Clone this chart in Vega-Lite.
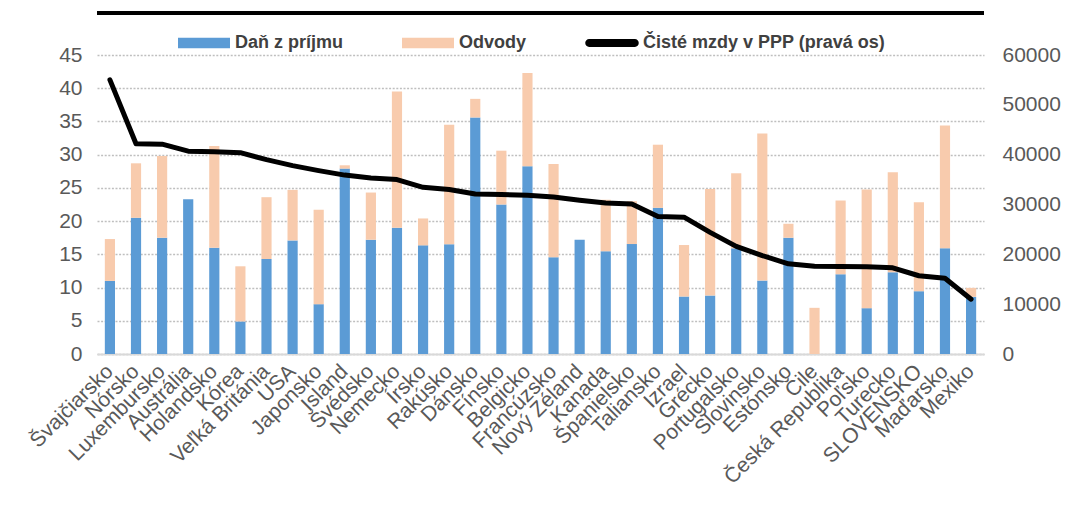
{
  "$schema": "https://vega.github.io/schema/vega-lite/v6.json",
  "width": 887,
  "height": 299,
  "autosize": {"type": "none"},
  "padding": {"left": 97, "top": 55, "right": 81, "bottom": 162},
  "background": "white",
  "config": {
    "view": {"stroke": null},
    "font": "Liberation Sans",
    "axis": {"labelFont": "Liberation Sans", "labelColor": "#595959", "labelFontSize": 21, "ticks": false, "title": null}
  },
  "data": {
    "values": [
      {"k": "Švajčiarsko", "Daň z príjmu": 11.0, "Odvody": 6.3, "mzda": 55000},
      {"k": "Nórsko", "Daň z príjmu": 20.5, "Odvody": 8.2, "mzda": 42200},
      {"k": "Luxembursko", "Daň z príjmu": 17.5, "Odvody": 12.3, "mzda": 42100},
      {"k": "Austrália", "Daň z príjmu": 23.3, "Odvody": 0, "mzda": 40700},
      {"k": "Holandsko", "Daň z príjmu": 16.0, "Odvody": 15.3, "mzda": 40600},
      {"k": "Kórea", "Daň z príjmu": 4.9, "Odvody": 8.3, "mzda": 40400},
      {"k": "Veľká Británia", "Daň z príjmu": 14.3, "Odvody": 9.3, "mzda": 39000},
      {"k": "USA", "Daň z príjmu": 17.1, "Odvody": 7.6, "mzda": 37800},
      {"k": "Japonsko", "Daň z príjmu": 7.5, "Odvody": 14.2, "mzda": 36800},
      {"k": "Island", "Daň z príjmu": 27.9, "Odvody": 0.5, "mzda": 35900},
      {"k": "Švédsko", "Daň z príjmu": 17.2, "Odvody": 7.1, "mzda": 35300},
      {"k": "Nemecko", "Daň z príjmu": 19.0, "Odvody": 20.5, "mzda": 35000},
      {"k": "Írsko", "Daň z príjmu": 16.35, "Odvody": 4.05, "mzda": 33450},
      {"k": "Rakúsko", "Daň z príjmu": 16.5, "Odvody": 18.0, "mzda": 33000},
      {"k": "Dánsko", "Daň z príjmu": 35.6, "Odvody": 2.8, "mzda": 32100},
      {"k": "Fínsko", "Daň z príjmu": 22.5, "Odvody": 8.1, "mzda": 32000},
      {"k": "Belgicko", "Daň z príjmu": 28.25, "Odvody": 14.05, "mzda": 31850},
      {"k": "Francúzsko", "Daň z príjmu": 14.55, "Odvody": 14.05, "mzda": 31500},
      {"k": "Nový Zéland", "Daň z príjmu": 17.2, "Odvody": 0, "mzda": 30850},
      {"k": "Kanada", "Daň z príjmu": 15.45, "Odvody": 7.75, "mzda": 30300},
      {"k": "Španielsko", "Daň z príjmu": 16.55, "Odvody": 6.45, "mzda": 30100},
      {"k": "Taliansko", "Daň z príjmu": 22.0, "Odvody": 9.5, "mzda": 27600},
      {"k": "Izrael", "Daň z príjmu": 8.65, "Odvody": 7.75, "mzda": 27450},
      {"k": "Grécko", "Daň z príjmu": 8.8, "Odvody": 16.05, "mzda": 24400},
      {"k": "Portugalsko", "Daň z príjmu": 15.9, "Odvody": 11.3, "mzda": 21600},
      {"k": "Slovinsko", "Daň z príjmu": 11.05, "Odvody": 22.15, "mzda": 19750},
      {"k": "Estónsko", "Daň z príjmu": 17.5, "Odvody": 2.1, "mzda": 18100},
      {"k": "Čile", "Daň z príjmu": 0, "Odvody": 6.95, "mzda": 17600},
      {"k": "Česká Republika", "Daň z príjmu": 12.0, "Odvody": 11.1, "mzda": 17550},
      {"k": "Poľsko", "Daň z príjmu": 6.9, "Odvody": 17.85, "mzda": 17500},
      {"k": "Turecko", "Daň z príjmu": 12.3, "Odvody": 15.05, "mzda": 17300},
      {"k": "SLOVENSKO", "Daň z príjmu": 9.45, "Odvody": 13.4, "mzda": 15700},
      {"k": "Maďarsko", "Daň z príjmu": 15.9, "Odvody": 18.5, "mzda": 15200},
      {"k": "Mexiko", "Daň z príjmu": 8.6, "Odvody": 1.35, "mzda": 11000}
    ]
  },
  "layer": [
    {
      "transform": [{"fold": ["Daň z príjmu", "Odvody"], "as": ["typ", "hodnota"]}],
      "mark": {"type": "bar"},
      "encoding": {
        "x": {
          "field": "k", "type": "nominal", "sort": null,
          "scale": {"paddingInner": 0.61, "paddingOuter": 0.3},
          "axis": {"labelAngle": -45, "labelAlign": "right", "labelBaseline": "middle", "labelPadding": 14, "labelDx": 4, "labelOverlap": false, "labelLimit": 0, "domainColor": "#d9d9d9", "domainWidth": 2, "grid": false}
        },
        "y": {
          "field": "hodnota", "type": "quantitative", "stack": "zero",
          "scale": {"domain": [0, 45], "nice": false},
          "axis": {"orient": "left", "values": [0, 5, 10, 15, 20, 25, 30, 35, 40, 45], "grid": true, "gridDash": [2, 1.6], "gridColor": "#bfbfbf", "gridWidth": 1.3, "domain": false, "labelPadding": 15}
        },
        "color": {
          "field": "typ", "type": "nominal",
          "scale": {"domain": ["Daň z príjmu", "Odvody", "Čisté mzdy v PPP (pravá os)"], "range": ["#5B9BD5", "#F8CBAD", "#000000"]},
          "legend": {
            "orient": "none", "legendX": 81, "legendY": -38, "direction": "horizontal", "title": null,
            "symbolType": "M-1,-0.2H1V0.2H-1Z", "symbolSize": 2704, "symbolStrokeWidth": 0,
            "labelFont": "Liberation Sans", "labelFontWeight": "bold", "labelFontSize": 18, "labelColor": "#404040",
            "labelOffset": 5, "columnPadding": 58, "labelLimit": 0,
            "encode": {"symbols": {"update": {
              "shape": {"signal": "datum.value === 'Čisté mzdy v PPP (pravá os)' ? 'M-0.88,-0.15H0.88A0.15,0.15,0,0,1,0.88,0.15H-0.88A0.15,0.15,0,0,1,-0.88,-0.15Z' : 'M-1,-0.2H1V0.2H-1Z'"},
              "fill": {"scale": "color", "field": "value"},
              "strokeWidth": {"value": 0},
              "opacity": {"value": 1}
            }}}
          }
        },
        "order": {"field": "typ", "sort": "ascending"}
      }
    },
    {
      "mark": {"type": "line", "strokeWidth": 5, "strokeJoin": "round", "strokeCap": "round"},
      "encoding": {
        "x": {"field": "k", "type": "nominal", "sort": null},
        "y": {
          "field": "mzda", "type": "quantitative",
          "scale": {"domain": [0, 60000], "nice": false},
          "axis": {"orient": "right", "values": [0, 10000, 20000, 30000, 40000, 50000, 60000], "format": "d", "grid": false, "domain": false, "labelPadding": 18}
        },
        "color": {"datum": "Čisté mzdy v PPP (pravá os)"}
      }
    },
    {
      "mark": {"type": "rule", "color": "#000000", "strokeWidth": 3, "clip": false},
      "encoding": {
        "y": {"datum": 51.3, "type": "quantitative", "scale": {"domain": [0, 45], "nice": false}, "axis": null}
      }
    }
  ],
  "resolve": {"scale": {"y": "independent"}}
}
